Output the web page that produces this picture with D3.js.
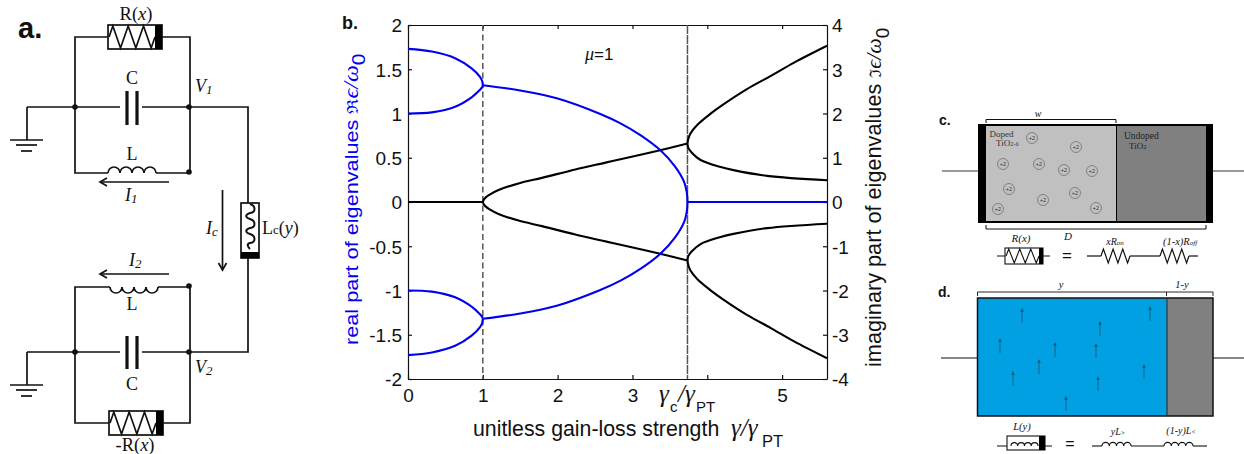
<!DOCTYPE html>
<html>
<head>
<meta charset="utf-8">
<script src="https://cdn.jsdelivr.net/npm/d3@7"></script>
<style>
  html, body { margin: 0; padding: 0; background: #fff; }
  svg { display: block; }
  text { fill: #111; }
  .sans { font-family: "Liberation Sans", Arial, sans-serif; }
  .serif { font-family: "Liberation Serif", "Times New Roman", serif; }
  .it { font-style: italic; }
  .axis text { font-family: "Liberation Sans", Arial, sans-serif; font-size: 19px; fill: #111; }
  .axis path, .axis line { stroke: #111; stroke-width: 1.2; }
</style>
</head>
<body>
<div id="chart"></div>
<script>
// ---- panel b ----
const xTicks = [0, 1, 2, 3, 4, 5]
const xTickLabels = ["0", "1", "2", "3", "", "5"]
const leftTicks = [-2, -1.5, -1, -0.5, 0, 0.5, 1, 1.5, 2]
const rightTicks = [-4, -3, -2, -1, 0, 1, 2, 3, 4]
const gammaPT = 1
const gammaC = 3.735

// real part, left axis
const blueSplitX = [0, 0.32, 0.63, 0.85, 0.96, 0.99, 1]
const blueTopUpper = [1.73, 1.7, 1.625, 1.51, 1.417, 1.37, 1.32]
const blueTopLower = [1, 1.013, 1.077, 1.183, 1.266, 1.295, 1.32]
const blueBottomUpper = [-1, -1.013, -1.077, -1.183, -1.266, -1.295, -1.32]
const blueBottomLower = [-1.73, -1.7, -1.625, -1.51, -1.417, -1.37, -1.32]
const blueMainX = [1, 1.5, 2, 2.57, 2.84, 3.106, 3.37, 3.57, 3.69, 3.725, 3.733, 3.735]
const blueMainTop = [1.32, 1.26, 1.17, 0.995, 0.889, 0.756, 0.587, 0.4, 0.228, 0.114, 0.05, 0]
const blueMainBottom = [-1.32, -1.26, -1.17, -0.995, -0.889, -0.756, -0.587, -0.4, -0.228, -0.114, -0.05, 0]
const blueFlatX = [3.735, 5.6]
const blueFlat = [0, 0]

// imaginary part, right axis
const blackFlatX = [0, 1]
const blackFlat = [0, 0]
const blackMidX = [1, 1.015, 1.04, 1.08, 1.21, 1.477, 1.79, 2.236, 2.64, 2.84, 3.37, 3.735]
const blackMidTop = [0, 0.06, 0.105, 0.155, 0.27, 0.42, 0.545, 0.735, 0.89, 0.968, 1.17, 1.32]
const blackMidBottom = [0, -0.06, -0.105, -0.155, -0.27, -0.42, -0.545, -0.735, -0.89, -0.968, -1.17, -1.32]
const blackOuterX = [3.735, 3.745, 3.775, 3.865, 4.04, 4.22, 4.53, 4.85, 5.16, 5.6]
const blackOuterTop = [1.32, 1.42, 1.55, 1.74, 1.99, 2.21, 2.55, 2.85, 3.15, 3.53]
const blackOuterBottom = [-1.32, -1.42, -1.55, -1.74, -1.99, -2.21, -2.55, -2.85, -3.15, -3.53]
const blackInnerX = [3.735, 3.745, 3.79, 3.91, 4.18, 4.35, 4.8, 5.6]
const blackInnerTop = [1.32, 1.23, 1.12, 0.95, 0.79, 0.72, 0.59, 0.49]
const blackInnerBottom = [-1.32, -1.23, -1.12, -0.95, -0.79, -0.72, -0.59, -0.49]

// panel c vacancies and panel d moments
const vacancyLabels = ["+2", "+2", "+2", "+2", "+2", "+2", "+2", "+2", "+2", "+2", "+2"]
const vacancyX = [1032, 1076, 1003, 1039, 1064, 1092, 1009, 1043, 1075, 998, 1096]
const vacancyY = [138, 147, 164, 164, 170, 171, 189, 200, 193, 209, 208]
const momentX = [1022, 1150, 1100, 1000, 1055, 1096, 1039, 1013, 1144, 1098, 1066]
const momentBase = [323, 321, 336, 353, 357, 358, 374, 386, 379, 391, 411]
const momentTip = [309, 307, 322, 339, 343, 344, 360, 372, 365, 377, 397]

const width = 1244
const height = 454
const svg = d3.select("#chart").append("svg").attr("width", width).attr("height", height)

// ---- drawing helpers for the schematics ----
function wire(g, pts, w = 1.7, color = "#111") {
  g.append("path").attr("d", d3.line()(pts)).attr("fill", "none")
    .attr("stroke", color).attr("stroke-width", w).attr("stroke-linejoin", "miter")
}
function label(g, x, y, str, size, cls = "serif", anchor = "middle") {
  return g.append("text").attr("x", x).attr("y", y).attr("class", cls)
    .attr("font-size", size).attr("text-anchor", anchor).text(str)
}
// text with a smaller trailing subscript
function labelSub(g, x, y, main, sub, size, cls = "serif it", anchor = "middle") {
  const t = label(g, x, y, main, size, cls, anchor)
  t.append("tspan").attr("font-size", size * 0.72).attr("dy", size * 0.12).text(sub)
  return t
}
function zigzag(x0, x1, y, amp, peaks) {
  const step = (x1 - x0) / (peaks * 2)
  const pts = [[x0, y]]
  for (let i = 0; i < peaks * 2; i++) {
    pts.push([x0 + step * (i + 0.5), i % 2 === 0 ? y - amp : y + amp])
  }
  pts.push([x1, y])
  return pts
}
function coilPath(x0, x1, y, humps, up = true) {
  const r = (x1 - x0) / humps / 2
  let d = `M${x0},${y}`
  for (let i = 0; i < humps; i++) d += `a${r},${r} 0 0 ${up ? 1 : 0} ${r * 2},0`
  return d
}
function coil(g, x0, x1, y, humps, up = true, w = 1.7) {
  g.append("path").attr("d", coilPath(x0, x1, y, humps, up)).attr("fill", "none")
    .attr("stroke", "#111").attr("stroke-width", w)
}
function memristor(g, x, y, w, h, blackW, peaks, lw = 1.7) {
  g.append("rect").attr("x", x).attr("y", y).attr("width", w).attr("height", h)
    .attr("fill", "#fff").attr("stroke", "#111").attr("stroke-width", lw)
  wire(g, zigzag(x + 1, x + w - blackW, y + h / 2, h / 2 - 1, peaks), lw)
  g.append("rect").attr("x", x + w - blackW).attr("y", y).attr("width", blackW).attr("height", h)
    .attr("fill", "#000")
}
function ground(g, x, y0, y1) {
  wire(g, [[x, y0], [x, y1]])
  wire(g, [[x - 17, y1], [x + 16, y1]])
  wire(g, [[x - 11, y1 + 5], [x + 10, y1 + 5]])
  wire(g, [[x - 6, y1 + 11], [x + 5, y1 + 11]])
}
function arrowHead(g, tipX, tipY, dx, dy) {
  // open head with barbs, pointing along dx,dy
  const s = 7
  wire(g, [[tipX + s * dx - 4 * dy, tipY + s * dy - 4 * dx], [tipX, tipY], [tipX + s * dx + 4 * dy, tipY + s * dy + 4 * dx]], 1.7)
}
function nodes(g, pts) {
  g.selectAll(null).data(pts).join("circle")
    .attr("cx", d => d[0]).attr("cy", d => d[1]).attr("r", 2.8).attr("fill", "#111")
}

// ---- panel a ----
function drawPanelA() {
  const g = svg.append("g")
  label(g, 18, 38, "a.", 29, "sans", "start").attr("font-weight", "bold")

  // upper tank
  wire(g, [[27, 107], [248, 107], [248, 203]])
  wire(g, [[75, 107], [75, 37], [190, 37], [190, 107]])
  memristor(g, 108, 25, 54, 24, 7, 3)
  wire(g, [[75, 107], [75, 173], [108, 173]])
  wire(g, [[156, 173], [190, 173], [190, 107]])
  coil(g, 108, 156, 173, 4, true)
  nodes(g, [[75, 107], [189, 107], [189, 172]])
  g.append("rect").attr("x", 120).attr("y", 88).attr("width", 22).attr("height", 38).attr("fill", "#fff")
  wire(g, [[127, 91], [127, 125]], 3.2)
  wire(g, [[137, 91], [137, 125]], 3.2)
  ground(g, 27, 107, 140)
  wire(g, [[169, 182], [100, 182]])
  arrowHead(g, 100, 182, 1, 0)
  const rTop = label(g, 136, 20, "R(", 18.5)
  rTop.append("tspan").attr("class", "it").text("x")
  rTop.append("tspan").text(")")
  label(g, 132, 84, "C", 18)
  label(g, 132, 160, "L", 18)
  labelSub(g, 195, 92, "V", "1", 18, "serif it", "start")
  labelSub(g, 125, 201, "I", "1", 18, "serif it", "start")

  // coupling inductor
  g.append("rect").attr("x", 241).attr("y", 203).attr("width", 18).attr("height", 55)
    .attr("fill", "#fff").attr("stroke", "#111").attr("stroke-width", 1.7)
  g.append("rect").attr("x", 241).attr("y", 252).attr("width", 18).attr("height", 6).attr("fill", "#000")
  g.append("path").attr("fill", "none").attr("stroke", "#111").attr("stroke-width", 2)
    .attr("d", "M250,204c6,2 6,8 0,9c-6,2 -4,5 0,6c6,2 6,8 0,9c-6,2 -4,5 0,6c6,2 6,8 0,9c-4,1 -2,4 0,6")
  const lc = label(g, 262, 234, "L", 18, "serif", "start")
  lc.append("tspan").attr("font-size", 13).text("c")
  lc.append("tspan").text("(")
  lc.append("tspan").attr("class", "it").text("y")
  lc.append("tspan").text(")")
  wire(g, [[222.5, 190], [222.5, 270]])
  arrowHead(g, 222.5, 270, 0, -1)
  labelSub(g, 206, 234, "I", "c", 18, "serif it", "start")

  // lower tank
  wire(g, [[248, 258], [248, 352], [27, 352]])
  wire(g, [[75, 352], [75, 287], [110, 287]])
  wire(g, [[158, 287], [190, 287], [190, 352]])
  coil(g, 110, 158, 287, 4, false)
  wire(g, [[75, 352], [75, 423], [190, 423], [190, 352]])
  memristor(g, 109, 411, 54, 24, 7, 3)
  nodes(g, [[75, 352], [189, 352], [189, 286]])
  g.append("rect").attr("x", 120).attr("y", 333).attr("width", 22).attr("height", 38).attr("fill", "#fff")
  wire(g, [[127, 336], [127, 369]], 3.2)
  wire(g, [[137, 336], [137, 369]], 3.2)
  ground(g, 27, 352, 385)
  wire(g, [[169, 274], [100, 274]])
  arrowHead(g, 100, 274, 1, 0)
  label(g, 132, 310, "L", 18)
  label(g, 132, 390, "C", 18)
  labelSub(g, 195, 373, "V", "2", 18, "serif it", "start")
  labelSub(g, 129, 266, "I", "2", 18, "serif it", "start")
  const r = label(g, 135, 451, "-R(", 18.5)
  r.append("tspan").attr("class", "it").text("x")
  r.append("tspan").text(")")
}

// ---- panel b ----
function drawPanelB() {
  const margin = { top: 25, right: 417, bottom: 75, left: 408 }
  const boundedWidth = width - margin.left - margin.right
  const boundedHeight = height - margin.top - margin.bottom

  const xScale = d3.scaleLinear().domain([0, 5.6]).range([margin.left, margin.left + boundedWidth])
  const yLeft = d3.scaleLinear().domain([-2, 2]).range([margin.top + boundedHeight, margin.top])
  const yRight = d3.scaleLinear().domain([-4, 4]).range([margin.top + boundedHeight, margin.top])

  const g = svg.append("g")

  // axes, ticks pointing in
  g.append("g").attr("class", "axis")
    .attr("transform", `translate(0,${margin.top + boundedHeight})`)
    .call(d3.axisBottom(xScale).tickValues(xTicks).tickSizeInner(-4).tickSizeOuter(0)
      .tickFormat((d, i) => xTickLabels[i]))
    .call(a => a.selectAll("text").attr("dy", 0).attr("y", 23))
  g.append("g").attr("class", "axis")
    .attr("transform", `translate(0,${margin.top})`)
    .call(d3.axisTop(xScale).tickValues(xTicks).tickSizeInner(-4).tickSizeOuter(0).tickFormat(""))
  g.append("g").attr("class", "axis")
    .attr("transform", `translate(${margin.left},0)`)
    .call(d3.axisLeft(yLeft).tickValues(leftTicks).tickSizeInner(-4).tickSizeOuter(0).tickFormat(d => String(d)))
    .call(a => a.selectAll("text").attr("x", -6).attr("dy", "0.36em"))
    .call(a => a.select(".domain").attr("stroke", "#666").attr("stroke-width", 1.6))
  g.append("g").attr("class", "axis")
    .attr("transform", `translate(${margin.left + boundedWidth},0)`)
    .call(d3.axisRight(yRight).tickValues(rightTicks).tickSizeInner(-4).tickSizeOuter(0).tickFormat(d => String(d)))
    .call(a => a.selectAll("text").attr("x", 5).attr("dy", "0.36em"))

  // exceptional point markers
  const markers = [[gammaPT, "6,3.5"], [gammaC, "9,1"]]
  g.selectAll(null).data(markers).join("line")
    .attr("x1", d => xScale(d[0])).attr("x2", d => xScale(d[0]))
    .attr("y1", margin.top).attr("y2", margin.top + boundedHeight)
    .attr("stroke", "#555").attr("stroke-width", 1.5)
    .attr("stroke-dasharray", d => d[1])

  const draw = (xs, ys, yScale, color) => {
    const line = d3.line().x((d, i) => xScale(xs[i])).y(d => yScale(d)).curve(d3.curveCatmullRom.alpha(0.5))
    g.append("path").datum(ys).attr("d", line).attr("fill", "none")
      .attr("stroke", color).attr("stroke-width", 2.1)
  }
  const blue = "#0000ee"
  const black = "#000"
  draw(blackFlatX, blackFlat, yRight, black)
  draw(blackMidX, blackMidTop, yRight, black)
  draw(blackMidX, blackMidBottom, yRight, black)
  draw(blackOuterX, blackOuterTop, yRight, black)
  draw(blackInnerX, blackInnerTop, yRight, black)
  draw(blackInnerX, blackInnerBottom, yRight, black)
  draw(blackOuterX, blackOuterBottom, yRight, black)
  draw(blueSplitX, blueTopUpper, yLeft, blue)
  draw(blueSplitX, blueTopLower, yLeft, blue)
  draw(blueSplitX, blueBottomUpper, yLeft, blue)
  draw(blueSplitX, blueBottomLower, yLeft, blue)
  draw(blueMainX, blueMainTop, yLeft, blue)
  draw(blueMainX, blueMainBottom, yLeft, blue)
  draw(blueFlatX, blueFlat, yLeft, blue)

  // labels
  label(g, 342, 29, "b.", 18, "sans", "start").attr("font-weight", "bold")
  const mu = label(g, 585, 60, "", 17, "sans", "start")
  mu.append("tspan").attr("class", "serif it").attr("font-size", 18).text("μ")
  mu.append("tspan").text("=1")

  const symbol = (parent, str, size) => parent.append("tspan")
    .attr("font-family", "'DejaVu Serif', serif").attr("font-size", size).text(str)
  const greek = (parent, str, size) => parent.append("tspan")
    .attr("font-family", "'Liberation Serif', serif").attr("font-style", "italic").attr("font-size", size).text(str)
  const sub = (parent, str, size, down) => parent.append("tspan")
    .attr("dy", down).attr("font-size", size).text(str)

  const yl = g.append("text").attr("class", "sans").attr("font-size", 21.7)
    .attr("transform", "translate(358,345) rotate(-90) scale(1,0.85)")
    .style("fill", blue)
  yl.append("tspan").text("real part of eigenvalues ")
  symbol(yl, "ℜ", 18)
  greek(yl, "ϵ/ω", 24)
  sub(yl, "0", 21, 8)

  const yr = g.append("text").attr("class", "sans").attr("font-size", 21.7)
    .attr("transform", "translate(881,367) rotate(-90)")
  yr.append("tspan").text("imaginary part of eigenvalues ")
  symbol(yr, "ℑ", 16)
  greek(yr, "ϵ/ω", 22)
  sub(yr, "0", 19, 8)

  const xl = g.append("text").attr("class", "sans").attr("font-size", 21.3).attr("x", 473).attr("y", 436)
  xl.append("tspan").text("unitless gain-loss strength")
  greek(xl, "γ/γ", 25).attr("x", 731)
  sub(xl, "PT", 16.5, 11).attr("x", 762)

  const xc = g.append("text").attr("class", "sans").attr("font-size", 15).attr("x", 659).attr("y", 402)
  greek(xc, "γ", 25)
  xc.append("tspan").attr("dy", 10).attr("x", 670).text("c")
  greek(xc, "/γ", 25).attr("dy", -10).attr("x", 678)
  sub(xc, "PT", 15, 10).attr("x", 696)
}

// ---- panel c ----
function drawPanelC() {
  const g = svg.append("g")
  label(g, 939, 125, "c.", 14, "sans", "start").attr("font-weight", "bold")
  wire(g, [[942, 171], [1244, 171]], 1.2, "#333")
  g.append("rect").attr("x", 978).attr("y", 124).attr("width", 235).attr("height", 99).attr("fill", "#000")
  g.append("rect").attr("x", 986).attr("y", 126).attr("width", 130).attr("height", 95).attr("fill", "#c0c0c0")
  g.append("rect").attr("x", 1117).attr("y", 126).attr("width", 89).attr("height", 95).attr("fill", "#808080")
  wire(g, [[986, 123], [986, 119.5], [1116, 119.5], [1116, 123]], 1)
  wire(g, [[986, 225], [986, 229], [1206, 229], [1206, 225]], 1)
  label(g, 1038, 117, "w", 10, "serif it")
  label(g, 989.5, 137, "Doped", 9, "serif", "start").style("fill", "#333")
  const t1 = label(g, 996, 146, "TiO", 9, "serif", "start").style("fill", "#333")
  t1.append("tspan").attr("font-size", 6.5).text("2-δ")
  label(g, 1124, 139, "Undoped", 9.5, "serif", "start").style("fill", "#222")
  const t2 = label(g, 1129, 149, "TiO", 9, "serif", "start").style("fill", "#222")
  t2.append("tspan").attr("font-size", 6.5).text("2")

  const vac = g.selectAll(null).data(vacancyLabels).join("g")
  vac.append("circle").attr("cx", (d, i) => vacancyX[i]).attr("cy", (d, i) => vacancyY[i]).attr("r", 5.5)
    .attr("fill", "none").attr("stroke", "#666").attr("stroke-width", 0.7)
  vac.append("text").attr("x", (d, i) => vacancyX[i]).attr("y", (d, i) => vacancyY[i] + 2)
    .attr("text-anchor", "middle").attr("class", "sans").attr("font-size", 5.5).style("fill", "#333").text(d => d)

  label(g, 1021, 242, "R(x)", 11, "serif it")
  label(g, 1068, 240, "D", 11, "serif it")
  wire(g, [[997, 256], [1050, 256]], 1.2)
  memristor(g, 1005, 248, 38, 16, 4, 3, 1.1)
  label(g, 1067, 261, "=", 17, "sans")
  wire(g, [[1087, 256], [1101, 256]], 1.2)
  wire(g, zigzag(1101, 1130, 256, 7, 3), 1.2)
  wire(g, [[1130, 256], [1160, 256]], 1.2)
  wire(g, zigzag(1160, 1189, 256, 7, 3), 1.2)
  wire(g, [[1189, 256], [1198, 256]], 1.2)
  const a = label(g, 1115, 245, "xR", 10, "serif it")
  a.append("tspan").attr("font-size", 7).text("on")
  const b = label(g, 1180, 245, "(1-x)R", 10.5, "serif it")
  b.append("tspan").attr("font-size", 7).text("off")
}

// ---- panel d ----
function drawPanelD() {
  const g = svg.append("g")
  label(g, 938, 297, "d.", 14, "sans", "start").attr("font-weight", "bold")
  wire(g, [[941, 358], [1244, 358]], 1.2)
  g.append("rect").attr("x", 977.5).attr("y", 298).attr("width", 189.5).attr("height", 118).attr("fill", "#00a0e3")
  g.append("rect").attr("x", 1167).attr("y", 298).attr("width", 46).attr("height", 118).attr("fill", "#808080")
  g.append("rect").attr("x", 977.5).attr("y", 298).attr("width", 235.5).attr("height", 118)
    .attr("fill", "none").attr("stroke", "#111").attr("stroke-width", 1.5)
  wire(g, [[1167, 298], [1167, 416]], 1.2, "#333")
  wire(g, [[977.5, 296], [977.5, 292], [1213, 292], [1213, 296]], 0.9)
  wire(g, [[1166.5, 292], [1166.5, 296]], 0.9)
  label(g, 1061, 288, "y", 10.5, "serif it")
  label(g, 1182, 288, "1-y", 10.5, "serif it")

  const arrows = g.selectAll(null).data(momentX).join("g")
  arrows.append("line").attr("x1", d => d).attr("x2", d => d)
    .attr("y1", (d, i) => momentBase[i]).attr("y2", (d, i) => momentTip[i])
    .attr("stroke", "#155f80").attr("stroke-width", 0.9)
  arrows.append("path").attr("d", (d, i) => `M${d},${momentTip[i] - 1}l-1.8,4h3.6z`).attr("fill", "#155f80")

  label(g, 1022, 430, "L(y)", 10.5, "serif it")
  wire(g, [[997, 446], [1052, 446]], 1.1)
  g.append("rect").attr("x", 1007).attr("y", 436).attr("width", 38).attr("height", 14)
    .attr("fill", "#fff").attr("stroke", "#111").attr("stroke-width", 1.1)
  g.append("rect").attr("x", 1039).attr("y", 436).attr("width", 6).attr("height", 14).attr("fill", "#000")
  coil(g, 1011, 1038, 446, 4, true, 1.1)
  label(g, 1070, 449, "=", 16, "sans")
  wire(g, [[1092, 446], [1102, 446]], 1.1)
  coil(g, 1102, 1131, 446, 4, true, 1.1)
  wire(g, [[1131, 446], [1164, 446]], 1.1)
  coil(g, 1164, 1193, 446, 4, true, 1.1)
  wire(g, [[1193, 446], [1207, 446]], 1.1)
  const a = label(g, 1118, 435, "yL", 10, "serif it")
  a.append("tspan").attr("font-size", 6.5).text(">")
  const b = label(g, 1181, 434, "(1-y)L", 10, "serif it")
  b.append("tspan").attr("font-size", 6.5).text("<")
}

drawPanelA()
drawPanelB()
drawPanelC()
drawPanelD()
</script>
</body>
</html>
